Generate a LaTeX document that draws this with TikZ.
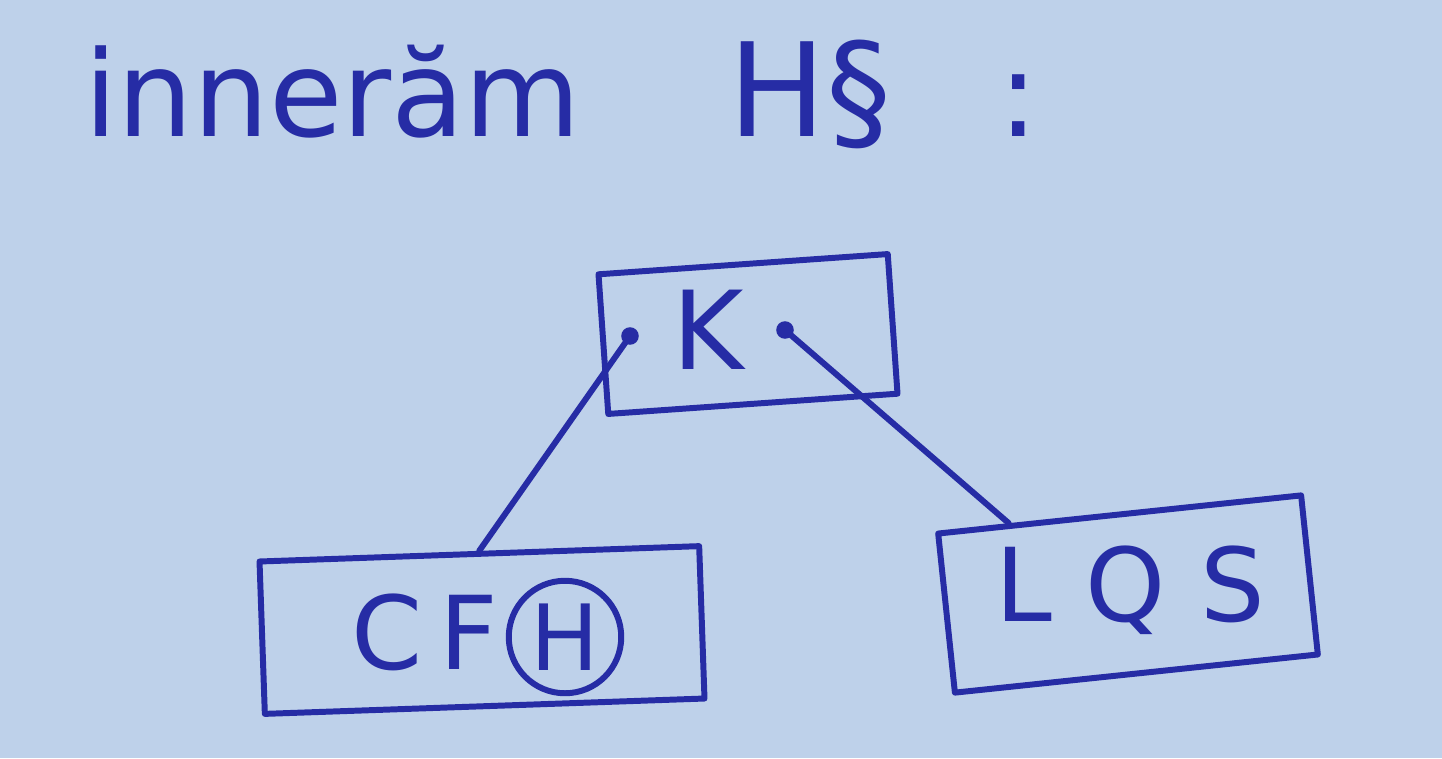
\documentclass[tikz,border=0pt]{standalone}
\usepackage{fontspec}
\setmainfont{DejaVu Sans}
\usetikzlibrary{calc}
\definecolor{paper}{RGB}{190,209,234}
\definecolor{ink}{RGB}{38,44,165}
\tikzset{
  ink/.style={draw=ink, line width=3.4pt, line cap=round, line join=round},
  boxnode/.style={ink, rectangle, inner sep=0pt},
  handtext/.style={text=ink, inner sep=0pt},
  pin/.style={circle, fill=ink, inner sep=0pt, minimum size=10pt}
}
\begin{document}
\begin{tikzpicture}[x=0.02cm, y=-0.02cm]
\fill[paper] (0,0) rectangle (1442,758);
\useasboundingbox (0,0) rectangle (1442,758);
% title
\node[handtext, anchor=base west, font=\fontsize{68}{80}\selectfont] (t1) at (84,136) {innerăm};
\node[handtext, anchor=base west, font=\fontsize{74}{86}\selectfont] (t2) at (728,136) {H§};
\node[handtext, anchor=base west, font=\fontsize{68}{80}\selectfont] (t3) at (998,136) {:};
% K box
\node[boxnode, minimum width=5.8cm, minimum height=2.8cm, rotate=4] (k) at (748,334) {};
\node[handtext, font=\fontsize{62}{70}\selectfont] (kt) at (708,330) {K};
\node[pin] (k1) at (630,336) {};
\node[pin] (k2) at (785,330) {};
% CFH box
\node[boxnode, minimum width=8.8cm, minimum height=3.05cm, rotate=2] (cfh) at (482,630) {};
\node[handtext, font=\fontsize{58}{66}\selectfont] (cf) at (425,632) {C\,F};
\node[ink, circle, minimum size=2.25cm, inner sep=0pt, text=ink, font=\fontsize{52}{60}\selectfont] (h) at (565,637) {H};
% LQS box
\node[boxnode, minimum width=7.3cm, minimum height=3.2cm, rotate=6] (lqs) at (1128,594) {};
\node[handtext, font=\fontsize{58}{66}\selectfont] (lt) at (1130,590) {L\,\,Q\,\,S};
\coordinate (lqsin) at ($(lqs.north west)!0.2!(lqs.north east)$);
% connectors
\draw[ink] (k1.center) -- (cfh.north);
\draw[ink] (k2.center) -- (lqsin);
\end{tikzpicture}
\end{document}
